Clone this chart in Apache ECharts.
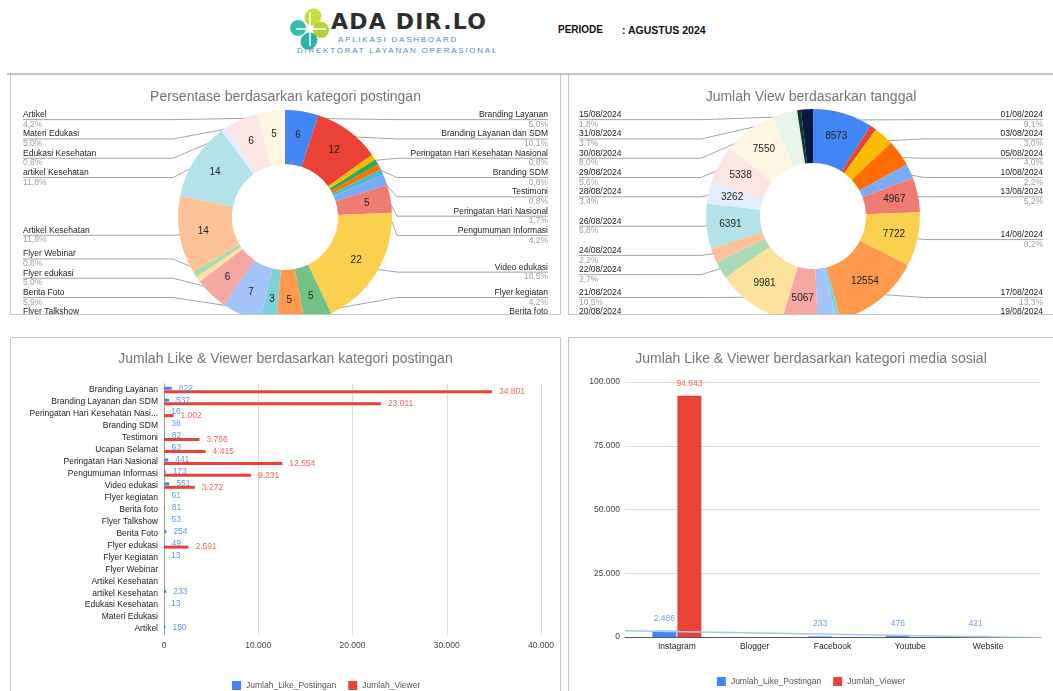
<!DOCTYPE html>
<html>
<head>
<meta charset="utf-8">
<script src="https://cdn.jsdelivr.net/npm/echarts@6/dist/echarts.min.js"></script>
<style>
  body{margin:0;width:1053px;height:691px;overflow:hidden;background:#fff;position:relative;font-family:Arial,"Liberation Sans",sans-serif}
  .abs{position:absolute;white-space:nowrap}
  .panel{position:absolute;box-sizing:border-box;overflow:hidden;border:1px solid #c6c6c6}
  .chart{position:absolute;left:0;top:0}
</style>
</head>
<body>
<!-- header -->
<svg class="abs" style="left:290px;top:6px" width="40" height="46" viewBox="0 0 40 46">
  <ellipse cx="23" cy="11" rx="8" ry="9" transform="rotate(40 23 11)" fill="#c9dd3e"/>
  <ellipse cx="31" cy="24" rx="8" ry="8" fill="#b4d43a"/>
  <ellipse cx="19" cy="35" rx="8" ry="9" transform="rotate(40 19 35)" fill="#2db3a6"/>
  <ellipse cx="8" cy="22" rx="8" ry="8" fill="#37bfae"/>
  <path d="M20 6 L20 40 M6 23 L36 23" stroke="#fff" stroke-width="1.5"/>
</svg>
<div class="abs" style="left:331px;top:9px;font:bold 22px 'DejaVu Sans';letter-spacing:1.2px;color:#2e2e2e">ADA DIR.LO</div>
<div class="abs" style="left:338px;top:35px;font:8px Arial;letter-spacing:1.75px;color:#4f86cf">APLIKASI DASHBOARD</div>
<div class="abs" style="left:297px;top:46px;font:8px Arial;letter-spacing:1.75px;color:#4f86cf">DIREKTORAT LAYANAN OPERASIONAL</div>
<div class="abs" style="left:558px;top:24px;font:bold 10px Arial;color:#111">PERIODE</div>
<div class="abs" style="left:622px;top:24px;font:bold 10.5px Arial;color:#111">: AGUSTUS 2024</div>
<div class="abs" style="left:7px;top:73px;width:1046px;height:2px;background:#c4c4c4"></div>

<div class="panel" style="left:10px;top:75px;width:551px;height:240px;border-top:none">
  <div id="c1" class="chart" style="width:549px;height:300px"></div>
</div>
<div class="panel" style="left:568px;top:75px;width:492px;height:240px;border-top:none">
  <div id="c2" class="chart" style="width:484px;height:300px"></div>
</div>
<div class="panel" style="left:10px;top:337px;width:551px;height:360px">
  <div id="c3" class="chart" style="width:549px;height:353px"></div>
</div>
<div class="panel" style="left:568px;top:337px;width:492px;height:360px">
  <div id="c4" class="chart" style="width:484px;height:353px"></div>
</div>

<script>
// ---------------- DATA ----------------
const postCategories = ['Branding Layanan','Branding Layanan dan SDM','Peringatan Hari Kesehatan Nasional','Branding SDM','Testimoni','Ucapan Selamat','Peringatan Hari Nasional','Pengumuman Informasi','Video edukasi','Flyer kegiatan','Berita foto','Flyer Talkshow','Berita Foto','Flyer edukasi','Flyer Kegiatan','Flyer Webinar','Artikel Kesehatan','artikel Kesehatan','Edukasi Kesehatan','Materi Edukasi','Artikel'];
const postCount = [6,12,1,1,1,1,2,5,22,5,5,3,7,6,1,1,14,14,1,6,5];
const likeByCategory = [822,537,16,38,82,63,441,173,551,61,81,53,254,49,13,null,null,233,13,null,150];
const viewByCategory = [34801,23011,1002,null,3766,4415,12554,9231,3272,null,null,null,null,2591,null,null,null,null,null,null,null];
const postLabelHidden = ['Ucapan Selamat','Flyer Kegiatan'];
const postInnerMin = 3;

const viewDates = ['01/08/2024','02/08/2024','03/08/2024','05/08/2024','10/08/2024','13/08/2024','14/08/2024','17/08/2024','18/08/2024','19/08/2024','20/08/2024','21/08/2024','22/08/2024','24/08/2024','26/08/2024','28/08/2024','29/08/2024','30/08/2024','31/08/2024','16/08/2024','15/08/2024'];
const viewByDate = [8573,900,2839,3786,2082,4967,7722,12554,570,2668,5067,9981,2555,2082,6391,3262,5338,7550,3502,550,1704];
const dateLabelHidden = ['02/08/2024','16/08/2024','18/08/2024'];
const dateInnerMin = 3200;
const dateInnerSkip = ['05/08/2024','31/08/2024'];

const platforms = ['Instagram','Blogger','Facebook','Youtube','Website'];
const likeByPlatform = [2486,null,233,476,421];
const viewByPlatform = [94643,null,null,null,null];
const likeTrendEnds = [2450,-330];   // trendline value at left and right edge of plot

const seriesNames = ['Jumlah_Like_Postingan','Jumlah_Viewer'];
const categoryAxisMax = 40000, categoryAxisStep = 10000;
const platformAxisMax = 100000, platformAxisStep = 25000;

// ---------------- STYLE ----------------
const FONT = 'Arial, "Liberation Sans", sans-serif';
const postColors = ['#4285F4','#EA4335','#FBBC04','#34A853','#FF6D01','#46BDC6','#7BAAF7','#F07B72','#FCD04F','#71C287','#FF994D','#7ED1D7','#A4C3F9','#F5A8A3','#FDE29B','#A9DAB5','#FEC298','#B3E3E8','#E4EDFD','#FCE5E3','#FEF6E0'];
const dateColors = ['#4285F4','#EA4335','#FBBC04','#FF6D01','#7BAAF7','#F07B72','#FCD04F','#FF994D','#7ED1D7','#A4C3F9','#F5A8A3','#FDE29B','#A9DAB5','#FEC298','#B3E3E8','#E4EDFD','#FCE5E3','#FEF6E0','#E6F4EA','#0E3A2E','#0A1740'];
const BLUE='#4285F4', RED='#EA4335', BLUE_T='#5e97f6', RED_T='#ee665a';

function fmt(v){ return v==null?'':String(v).replace(/\B(?=(\d{3})+(?!\d))/g,'.'); }
function pct(v,t){ return (v/t*100).toFixed(1).replace('.',','); }

function titleOf(text){
  return {text, left:'center', top:10, textStyle:{fontSize:14, fontWeight:'normal', color:'#757575', fontFamily:FONT}};
}

// outside-label layout of the donuts (chart px)
const LABEL_TOP = 35, LABEL_BOTTOM = 251.5, LABEL_H = 19.3;
const R_IN = 53, R_OUT = 107, R_NAT = 107, R_DOT = 100, R_BEND = 112;

// stack labels per side like the spreadsheet chart: start at the slice's mid-angle row,
// push down from the top bound, then push up from the bottom bound
function stackLabels(names, values, hidden, cy){
  const total = values.reduce((a,b)=>a+(b||0),0);
  let acc = 0; const items = [];
  values.forEach((v,i)=>{
    const mid = (acc + v/2)/total*2*Math.PI; acc += v;
    if (hidden.includes(names[i])) return;
    items.push({i, sx:Math.sin(mid), sy:-Math.cos(mid), y:cy - R_NAT*Math.cos(mid)});
  });
  const res = {};
  [items.filter(t=>t.sx>=0), items.filter(t=>t.sx<0)].forEach(list=>{
    list.sort((a,b)=>a.y-b.y);
    for (let k=0;k<list.length;k++){
      const lo = k===0 ? LABEL_TOP + LABEL_H/2 : list[k-1].y + LABEL_H;
      if (list[k].y < lo) list[k].y = lo;
    }
    for (let k=list.length-1;k>=0;k--){
      const hi = k===list.length-1 ? LABEL_BOTTOM - LABEL_H/2 : list[k+1].y - LABEL_H;
      if (list[k].y > hi) list[k].y = hi;
    }
    list.forEach(t=>res[t.i]=t);
  });
  return res;
}

function donut(names, values, colors, cx, cy, edgeDist, hiddenOut, showInner){
  const total = values.reduce((a,b)=>a+(b||0),0);
  const lay = stackLabels(names, values, hiddenOut, cy);
  const base = {type:'pie', center:[cx, cy], radius:[R_IN,R_OUT], startAngle:90, clockwise:true, silent:true, animation:false};
  const inner = Object.assign({}, base, {
    data: names.map((n,i)=>({name:n, value:values[i], itemStyle:{color:colors[i]}, label:{show:showInner(n,values[i])}})),
    label:{position:'inside', formatter:'{c}', fontSize:10, color:'#222', fontFamily:FONT},
    labelLine:{show:false}
  });
  const outer = Object.assign({}, base, {
    data: names.map((n,i)=>({name:n, value:values[i], label:{show:!hiddenOut.includes(n)}, labelLine:{show:!hiddenOut.includes(n)}})),
    itemStyle:{color:'rgba(0,0,0,0)'},
    avoidLabelOverlap:false,
    label:{position:'outside', alignTo:'edge', edgeDistance:edgeDist, overflow:'none',
      formatter: p=>'{n|'+p.name+'}\n{p|'+pct(p.value,total)+'%}',
      rich:{n:{fontSize:8.5,color:'#222',lineHeight:9.65,fontFamily:FONT}, p:{fontSize:8.5,color:'#9e9e9e',lineHeight:9.65,fontFamily:FONT}}},
    labelLine:{length:6, length2:0, lineStyle:{color:'#a3a3a3', width:1}},
    labelLayout: function(p){
      const t = lay[p.dataIndex];
      if (!t || !p.labelRect) return {};
      const right = t.sx >= 0, lr = p.labelRect;
      const edge = right ? lr.x + lr.width : lr.x;
      return {
        y: t.y,
        labelLinePoints: [[cx + t.sx*R_DOT, cy + t.sy*R_DOT], [cx + (right?1:-1)*R_BEND, t.y], [edge, t.y]]
      };
    }
  });
  return [inner, outer];
}

// ---------------- CHART 1 ----------------
echarts.init(document.getElementById('c1')).setOption({
  animation:false,
  title: titleOf('Persentase berdasarkan kategori postingan'),
  series: donut(postCategories, postCount, postColors, 274, 142, 12, postLabelHidden, (n,v)=>v>=postInnerMin)
});

// ---------------- CHART 2 ----------------
echarts.init(document.getElementById('c2')).setOption({
  animation:false,
  title: titleOf('Jumlah View berdasarkan tanggal'),
  series: donut(viewDates, viewByDate, dateColors, 244, 141, 10, dateLabelHidden, (n,v)=>v>=dateInnerMin && !dateInnerSkip.includes(n))
});

// ---------------- CHART 3 ----------------
const legendCommon = {icon:'rect', itemWidth:9, itemHeight:9, itemGap:12, textStyle:{fontSize:8.5, color:'#555', fontFamily:FONT}, data:seriesNames};
echarts.init(document.getElementById('c3')).setOption({
  animation:false,
  title: Object.assign(titleOf('Jumlah Like & Viewer berdasarkan kategori postingan'), {top:9}),
  legend: Object.assign({left:216, top:338}, legendCommon),
  grid:{left:153, top:46, width:377, height:251},
  xAxis:{type:'value', min:0, max:categoryAxisMax, interval:categoryAxisStep,
    axisLabel:{formatter:fmt, fontSize:8.5, color:'#444', margin:6, fontFamily:FONT},
    splitLine:{lineStyle:{color:'#dcdcdc'}}, axisLine:{show:false}, axisTick:{show:false}},
  yAxis:{type:'category', inverse:true, data:postCategories,
    axisTick:{show:false}, axisLine:{lineStyle:{color:'#9e9e9e'}},
    axisLabel:{fontSize:8.5, color:'#222', width:134, overflow:'truncate', ellipsis:'...', margin:6, fontFamily:FONT}},
  series:[
    {name:seriesNames[0], type:'bar', data:likeByCategory, barWidth:3, barGap:'15%', itemStyle:{color:BLUE},
     label:{show:true, position:'right', distance:7, formatter:p=>fmt(p.value), fontSize:8.5, color:BLUE_T, fontFamily:FONT}},
    {name:seriesNames[1], type:'bar', data:viewByCategory, barWidth:3, itemStyle:{color:RED},
     label:{show:true, position:'right', distance:7, formatter:p=>fmt(p.value), fontSize:8.5, color:RED_T, fontFamily:FONT}}
  ]
});

// ---------------- CHART 4 ----------------
echarts.init(document.getElementById('c4')).setOption({
  animation:false,
  title: Object.assign(titleOf('Jumlah Like & Viewer berdasarkan kategori media sosial'), {top:9}),
  legend: Object.assign({left:'center', top:334}, legendCommon),
  grid:[{left:56, top:44, width:416, height:255},{left:69, top:44, width:389, height:255}],
  xAxis:[
    {gridIndex:0, type:'value', min:0, max:1, axisLine:{show:true, lineStyle:{color:'#555'}}, axisLabel:{show:false}, axisTick:{show:false}, splitLine:{show:false}},
    {gridIndex:1, type:'category', data:platforms, axisLine:{show:false}, axisTick:{show:false},
     axisLabel:{fontSize:8.5, color:'#222', margin:5, fontFamily:FONT}}
  ],
  yAxis:[
    {gridIndex:0, type:'value', min:0, max:platformAxisMax, interval:platformAxisStep,
     axisLabel:{formatter:fmt, fontSize:8.5, color:'#444', margin:5, fontFamily:FONT},
     splitLine:{lineStyle:{color:'#dcdcdc'}}, axisLine:{show:false}, axisTick:{show:false}},
    {gridIndex:1, type:'value', min:0, max:platformAxisMax, show:false}
  ],
  series:[
    {name:seriesNames[0], type:'bar', xAxisIndex:1, yAxisIndex:1, data:likeByPlatform, barWidth:24, barGap:'4%', itemStyle:{color:BLUE},
     label:{show:true, position:'top', distance:8, formatter:p=>fmt(p.value), fontSize:8.5, color:'#6d9ef5', fontFamily:FONT}},
    {name:seriesNames[1], type:'bar', xAxisIndex:1, yAxisIndex:1, data:viewByPlatform, barWidth:24, itemStyle:{color:RED},
     label:{show:true, position:'top', distance:8, formatter:p=>fmt(p.value), fontSize:8.5, color:RED_T, fontFamily:FONT}},
    {type:'line', xAxisIndex:0, yAxisIndex:0, data:[[0,likeTrendEnds[0]],[1,likeTrendEnds[1]]], symbol:'none', clip:true,
     lineStyle:{color:'#a9c6f7', width:1.5}, silent:true, z:5}
  ]
});
</script>
</body>
</html>
